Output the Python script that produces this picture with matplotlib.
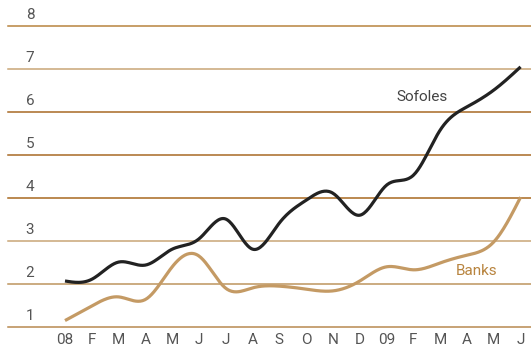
import numpy as np
import matplotlib
matplotlib.use("Agg")
import matplotlib.pyplot as plt

months = ["08", "F", "M", "A", "M", "J", "J", "A", "S", "O", "N", "D",
          "09", "F", "M", "A", "M", "J"]
sofoles = [2.07, 2.11, 2.51, 2.44, 2.81, 3.05, 3.51, 2.81, 3.42, 3.95, 4.11, 3.60,
           4.30, 4.53, 5.58, 6.12, 6.51, 7.05]
banks = [1.15, 1.49, 1.70, 1.64, 2.40, 2.65, 1.90, 1.91, 1.95, 1.88, 1.84, 2.07,
         2.40, 2.33, 2.49, 2.67, 2.98, 4.02]
y_levels = [1, 2, 3, 4, 5, 6, 7, 8]
grid_colors = ["#B8894F", "#BD945E", "#C9A677", "#A8681F", "#A86A25",
               "#A86A25", "#C9A677", "#B8843F"]


def natural_spline(x, y, n=400):
    x = np.asarray(x, float)
    y = np.asarray(y, float)
    m = len(x)
    h = np.diff(x)
    A = np.zeros((m, m))
    b = np.zeros(m)
    A[0, 0] = A[-1, -1] = 1
    for i in range(1, m - 1):
        A[i, i - 1] = h[i - 1]
        A[i, i] = 2 * (h[i - 1] + h[i])
        A[i, i + 1] = h[i]
        b[i] = 3 * ((y[i + 1] - y[i]) / h[i] - (y[i] - y[i - 1]) / h[i - 1])
    c = np.linalg.solve(A, b)
    xs = np.linspace(x[0], x[-1], n)
    idx = np.clip(np.searchsorted(x, xs) - 1, 0, m - 2)
    dx = xs - x[idx]
    hi = h[idx]
    bi = (y[idx + 1] - y[idx]) / hi - hi * (2 * c[idx] + c[idx + 1]) / 3
    di = (c[idx + 1] - c[idx]) / (3 * hi)
    ys = y[idx] + bi * dx + c[idx] * dx ** 2 + di * dx ** 3
    return xs, ys


W, H = 531, 351
fig = plt.figure(figsize=(W / 100, H / 100), dpi=100)
left_px, right_px, top_px, bottom_px = 8, 531, 26, 327
ax = fig.add_axes([left_px / W, (H - bottom_px) / H,
                   (right_px - left_px) / W, (bottom_px - top_px) / H])

step = 26.8
x0_px = 65
ax.set_xlim((left_px - x0_px) / step, (right_px - x0_px) / step)
ax.set_ylim(1, 8)
for s in ax.spines.values():
    s.set_visible(False)
ax.set_xticks([])
ax.set_yticks([])

for lv, col in zip(y_levels, grid_colors):
    ax.axhline(lv, color=col, lw=1.1, clip_on=False, zorder=1)
    ax.text((30 - x0_px) / step, lv + 0.1, str(lv), ha="center", va="bottom",
            fontsize=11, color="#555555", family="Roboto")

xi = np.arange(len(months))
for vals, col in ((banks, "#C49A64"), (sofoles, "#222222")):
    xs, ys = natural_spline(xi, vals)
    ax.plot(xs, ys, color=col, lw=2.3, solid_capstyle="butt", zorder=3)

for i, m in enumerate(months):
    ax.text(i, 0.69, m, ha="center", va="center", fontsize=11,
            color="#555555", family="Roboto", clip_on=False)

ax.text((422 - x0_px) / step, 1 + (327 - 97) / 43, "Sofoles", ha="center",
        va="center", fontsize=11, color="#444444", family="Roboto")
ax.text((477 - x0_px) / step, 1 + (327 - 271) / 43, "Banks", ha="center",
        va="center", fontsize=11, color="#B8843F", family="Roboto")

fig.savefig("out.png", dpi=100)
